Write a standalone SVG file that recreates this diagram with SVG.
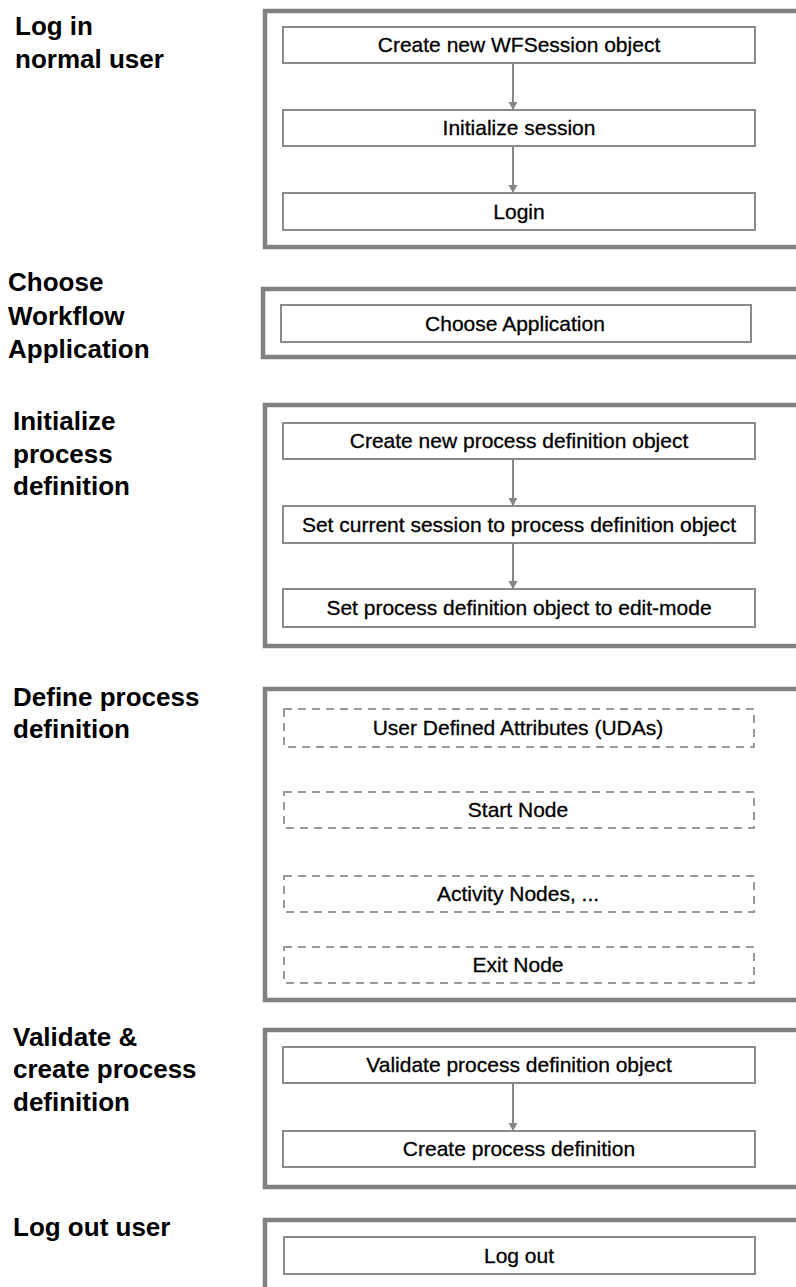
<svg xmlns="http://www.w3.org/2000/svg" width="796" height="1287" viewBox="0 0 796 1287">
<style>
.lbl{font-family:"Liberation Sans",Arial,sans-serif;font-weight:bold;font-size:26px;fill:#000}
.txt{font-family:"Liberation Sans",Arial,sans-serif;font-size:21px;fill:#000;stroke:#000;stroke-width:0.3;text-anchor:middle}
.outer{fill:none;stroke:#808080;stroke-width:4.5}
.box{fill:#fff;stroke:#8a8a8a;stroke-width:2}
.dash{fill:#fff;stroke:#999;stroke-width:2;stroke-dasharray:8 6}
.conn{stroke:#858585;stroke-width:2;fill:none;marker-end:url(#ah)}
</style>
<defs>
<marker id="ah" markerWidth="10" markerHeight="10" refX="8" refY="4.5" orient="auto" markerUnits="userSpaceOnUse">
<path d="M0,0 L8,4.5 L0,9 Z" fill="#858585"/>
</marker>
</defs>
<rect width="796" height="1287" fill="#fff"/>

<g id="sec-login">
<text class="lbl" x="15" y="35">Log in</text>
<text class="lbl" x="15" y="68">normal user</text>
<rect class="outer" x="265" y="11" width="540" height="236"/>
</g>
<g id="n-create-session"><rect class="box" x="283" y="27" width="472" height="36"/><text class="txt" x="519" y="52">Create new WFSession object</text></g>
<g id="n-init-session"><rect class="box" x="283" y="110" width="472" height="36"/><text class="txt" x="519" y="135">Initialize session</text></g>
<g id="n-login"><rect class="box" x="283" y="193" width="472" height="37"/><text class="txt" x="519" y="219">Login</text></g>

<g id="sec-choose">
<text class="lbl" x="8" y="291">Choose</text>
<text class="lbl" x="8" y="325">Workflow</text>
<text class="lbl" x="8" y="358">Application</text>
<rect class="outer" x="263" y="289" width="540" height="68"/>
</g>
<g id="n-choose-app"><rect class="box" x="281" y="305" width="470" height="37"/><text class="txt" x="515" y="331">Choose Application</text></g>

<g id="sec-init">
<text class="lbl" x="13" y="430">Initialize</text>
<text class="lbl" x="13" y="463">process</text>
<text class="lbl" x="13" y="495">definition</text>
<rect class="outer" x="265" y="405" width="540" height="241"/>
</g>
<g id="n-create-pd"><rect class="box" x="283" y="423" width="472" height="36"/><text class="txt" x="519" y="448">Create new process definition object</text></g>
<g id="n-set-session"><rect class="box" x="283" y="506" width="472" height="37"/><text class="txt" x="519" y="532">Set current session to process definition object</text></g>
<g id="n-edit-mode"><rect class="box" x="283" y="589" width="472" height="38"/><text class="txt" x="519" y="615">Set process definition object to edit-mode</text></g>

<g id="sec-define">
<text class="lbl" x="13" y="706">Define process</text>
<text class="lbl" x="13" y="738">definition</text>
<rect class="outer" x="265" y="689" width="540" height="311"/>
</g>
<g id="n-uda"><rect class="dash" x="284" y="709" width="470" height="38"/><text class="txt" x="518" y="735">User Defined Attributes (UDAs)</text></g>
<g id="n-start"><rect class="dash" x="284" y="792" width="470" height="36"/><text class="txt" x="518" y="817">Start Node</text></g>
<g id="n-activity"><rect class="dash" x="284" y="876" width="470" height="36"/><text class="txt" x="518" y="901">Activity Nodes, ...</text></g>
<g id="n-exit"><rect class="dash" x="284" y="947" width="470" height="36"/><text class="txt" x="518" y="972">Exit Node</text></g>

<g id="sec-validate">
<text class="lbl" x="13" y="1046">Validate &amp;</text>
<text class="lbl" x="13" y="1078">create process</text>
<text class="lbl" x="13" y="1111">definition</text>
<rect class="outer" x="265" y="1030" width="540" height="157"/>
</g>
<g id="n-validate"><rect class="box" x="283" y="1047" width="472" height="36"/><text class="txt" x="519" y="1072">Validate process definition object</text></g>
<g id="n-create-def"><rect class="box" x="283" y="1131" width="472" height="36"/><text class="txt" x="519" y="1156">Create process definition</text></g>

<g id="sec-logout">
<text class="lbl" x="13" y="1236">Log out user</text>
<path class="outer" d="M265,1295 V1220 H805"/>
</g>
<g id="n-logout"><rect class="box" x="284" y="1237" width="471" height="37"/><text class="txt" x="519" y="1263">Log out</text></g>

<g id="connectors">
<line class="conn" x1="513" y1="63" x2="513" y2="110"/>
<line class="conn" x1="513" y1="146" x2="513" y2="193"/>
<line class="conn" x1="513" y1="459" x2="513" y2="506"/>
<line class="conn" x1="513" y1="543" x2="513" y2="589"/>
<line class="conn" x1="513" y1="1083" x2="513" y2="1131"/>
</g>
</svg>
